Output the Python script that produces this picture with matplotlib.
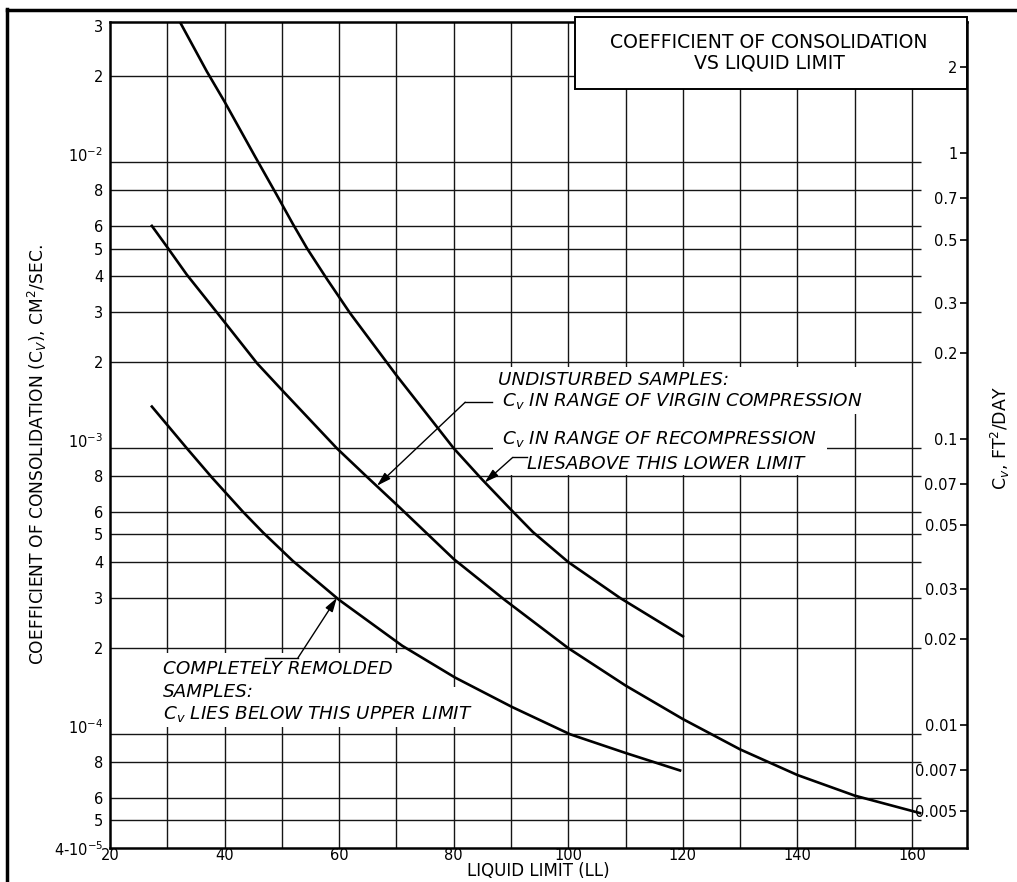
import matplotlib.pyplot as plt
from matplotlib.patches import Rectangle
from matplotlib.lines import Line2D

# cm^2/sec -> ft^2/day
K = 86400 / 929.03

# upper curve: recompression, lower limit
recomp_ll = [32.2, 36.9, 40, 45.3, 49.1, 51.9, 54.4, 57.9, 61.9, 70, 80, 84.9, 90, 93.8, 100, 109, 120]
recomp_cv = [3.1e-2, 2.08e-2, 1.63e-2, 1.05e-2, 7.7e-3, 6.1e-3, 5.0e-3, 3.9e-3, 2.97e-3, 1.8e-3,
             1.0e-3, 7.8e-4, 6.1e-4, 5.1e-4, 4.0e-4, 3.0e-4, 2.2e-4]

# middle curve: undisturbed, virgin compression
virgin_ll = [27.3, 30, 33.4, 38.7, 45.7, 50, 59.6, 64.7, 70.6, 80, 88.9, 100, 110,
             120, 130, 140, 150, 161.4]
virgin_cv = [6.0e-3, 5.05e-3, 4.05e-3, 2.98e-3, 1.98e-3, 1.6e-3, 1.0e-3, 8.0e-4, 6.2e-4, 4.1e-4,
             2.95e-4, 2.0e-4, 1.48e-4, 1.13e-4, 8.85e-5, 7.2e-5, 6.1e-5, 5.3e-5]

# lower curve: completely remolded, upper limit
remold_ll = [27.3, 33.6, 37.8, 43.2, 46.7, 51.9, 60, 71, 80.2, 90.2, 100.3, 110, 119.5]
remold_cv = [1.4e-3, 9.9e-4, 7.9e-4, 6.0e-4, 5.08e-4, 4.04e-4, 2.95e-4, 2.04e-4, 1.58e-4,
             1.245e-4, 1.0e-4, 8.6e-5, 7.47e-5]

ll_ticks = [20, 40, 60, 80, 100, 120, 140, 160]
ll_grid = [30, 40, 50, 60, 70, 80, 90, 100, 110, 120, 130, 140, 150, 160]

cv_ticks = [3e-2, 2e-2, 1e-2, 8e-3, 6e-3, 5e-3, 4e-3, 3e-3, 2e-3, 1e-3, 8e-4, 6e-4, 5e-4,
            4e-4, 3e-4, 2e-4, 1e-4, 8e-5, 6e-5, 5e-5, 4e-5]
cv_labels = ['3', '2', r'10$^{-2}$', '8', '6', '5', '4', '3', '2', r'10$^{-3}$', '8', '6', '5',
             '4', '3', '2', r'10$^{-4}$', '8', '6', '5', r'4-10$^{-5}$']
cv_grid = cv_ticks[1:-1]

ft_ticks = [2, 1, 0.7, 0.5, 0.3, 0.2, 0.1, 0.07, 0.05, 0.03, 0.02, 0.01, 0.007, 0.005]
ft_labels = ['2', '1', '0.7', '0.5', '0.3', '0.2', '0.1', '0.07', '0.05', '0.03', '0.02',
             '0.01', '0.007', '0.005']

plt.rcParams['font.family'] = ['DejaVu Sans']

fig = plt.figure(figsize=(10.17, 8.82), dpi=100)
ax = fig.add_axes([0.1082, 0.0385, 0.8427, 0.9366])
ax.set_yscale('log')
ax.set_xlim(20, 169.6)
ax.set_ylim(4e-5, 3.1e-2)

# grid
ax.vlines(ll_grid, 4e-5, 3.1e-2, color='#151515', lw=1.0, zorder=0.5)
ax.hlines(cv_grid, 20, 161.5, color='#151515', lw=1.0, zorder=0.5)

# blank areas behind the notes
white = dict(facecolor='white', edgecolor='none', zorder=1)
ax.add_patch(Rectangle((86.8, 1.315e-3), 152.6 - 86.8, 1.93e-3 - 1.315e-3, **white))
ax.add_patch(Rectangle((86.8, 8.1e-4), 145.2 - 86.8, 1.315e-3 - 8.1e-4, **white))
ax.add_patch(Rectangle((28.7, 1.06e-4), 70.6 - 28.7, 1.93e-4 - 1.06e-4, **white))
ax.add_patch(Rectangle((70.6, 1.06e-4), 86.7 - 70.6, 1.46e-4 - 1.06e-4, **white))

# curves
for xs, ys in [(recomp_ll, recomp_cv), (virgin_ll, virgin_cv), (remold_ll, remold_cv)]:
    ax.plot(xs, ys, color='black', lw=1.9, zorder=3, solid_joinstyle='round')

# notes
note = dict(fontsize=13.2, fontstyle='italic', va='center', ha='left', zorder=4)
ax.text(87.7, 1.74e-3, 'UNDISTURBED SAMPLES:', **note)
ax.text(88.4, 1.46e-3, r'C$_v$ IN RANGE OF VIRGIN COMPRESSION', **note)
ax.text(88.4, 1.075e-3, r'C$_v$ IN RANGE OF RECOMPRESSION', **note)
ax.text(92.8, 8.79e-4, 'LIESABOVE THIS LOWER LIMIT', **note)
ax.text(29.25, 1.69e-4, 'COMPLETELY REMOLDED', **note)
ax.text(29.25, 1.41e-4, 'SAMPLES:', **note)
ax.text(29.25, 1.18e-4, r'C$_v$ LIES BELOW THIS UPPER LIMIT', **note)

# leaders with arrow heads
arrow = dict(arrowstyle='-|>,head_length=0.6,head_width=0.18', color='black', lw=1.0,
             shrinkA=0, shrinkB=0, mutation_scale=14)
leaders = [((86.7, 82.0, 1.45e-3), (66.6, 7.4e-4)),
           ((92.8, 90.3, 9.3e-4), (85.4, 7.6e-4)),
           ((47.05, 52.8, 1.85e-4), (59.6, 3.0e-4))]
for (xa, xb, yh), tip in leaders:
    ax.plot([xa, xb], [yh, yh], color='black', lw=1.0, zorder=4)
    ax.annotate('', xy=tip, xytext=(xb, yh), arrowprops=arrow, zorder=4)

# axes styling
ax.set_xticks(ll_ticks, [str(v) for v in ll_ticks])
ax.set_yticks(cv_ticks, cv_labels)
ax.minorticks_off()
ax.tick_params(axis='both', length=0, labelsize=10.5)
ax.tick_params(axis='x', pad=0)
ax.tick_params(axis='y', pad=5)
for lab in ax.get_yticklabels():
    if lab.get_text().startswith('10'):
        lab.set_va('baseline')
for s in ax.spines.values():
    s.set_linewidth(1.8)
ax.set_xlabel('LIQUID LIMIT (LL)', fontsize=12)
ax.xaxis.label.set_va('baseline')
ax.xaxis.set_label_coords(0.5, -0.0335)
ax.set_ylabel(r'COEFFICIENT OF CONSOLIDATION (C$_V$), CM$^2$/SEC.', fontsize=12.3)
ax.yaxis.set_label_coords(-0.071, 0.476)

# title box
ax.add_patch(Rectangle((0.5426, 0.919), 0.4574, 0.087, transform=ax.transAxes,
                       facecolor='white', edgecolor='black', lw=1.4, clip_on=False, zorder=5))
ax.text(0.769, 0.9625, 'COEFFICIENT OF CONSOLIDATION\nVS LIQUID LIMIT', transform=ax.transAxes,
        ha='center', va='center', fontsize=13.6, linespacing=1.1, zorder=6)

# right-hand scale in ft^2/day
ax2 = ax.twinx()
ax2.set_yscale('log')
ax2.set_ylim(4e-5 * K, 3.1e-2 * K)
ax2.set_yticks(ft_ticks, ft_labels)
ax2.minorticks_off()
ax2.tick_params(axis='y', direction='in', length=5, width=1.2, pad=-7, labelsize=10.5)
for lab in ax2.get_yticklabels():
    lab.set_ha('right')
for s in ax2.spines.values():
    s.set_visible(False)
ax2.text(1.0385, 0.496, r'C$_v$, FT$^2$/DAY', transform=ax2.transAxes, rotation=90,
         ha='center', va='center', fontsize=12.5)

# page border
fig.add_artist(Line2D([7 / 1017, 7 / 1017], [0, 1 - 9 / 882], color='black', lw=2.5))
fig.add_artist(Line2D([7 / 1017, 1], [1 - 10 / 882, 1 - 10 / 882], color='black', lw=2.5))

fig.savefig('out.png', dpi=100)
